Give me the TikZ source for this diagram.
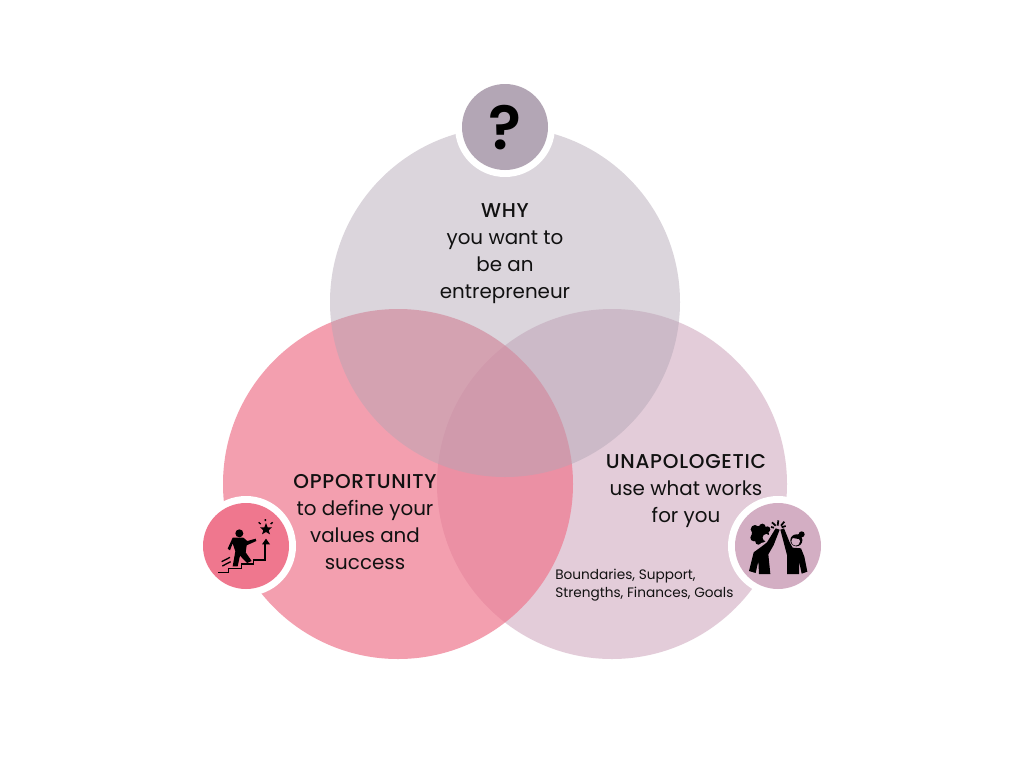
\documentclass[tikz,border=0pt]{standalone}
\usepackage{fontspec}
\setmainfont{Poppins}
\newfontfamily\headfont[LetterSpace=3.6]{Poppins Medium}
\newfontfamily\quesfont{Poppins SemiBold}
\definecolor{cwhy}{HTML}{B3A6B5}
\definecolor{copp}{HTML}{EF778E}
\definecolor{cuna}{HTML}{D3AEC3}
\definecolor{ink}{HTML}{111111}
\newcommand{\hd}[1]{{\headfont\fontsize{15}{20.25}\selectfont #1}}
\tikzset{
  venn/.style={fill=#1,draw=none},
  badge/.style={fill=#1,draw=none},
  ring/.style={fill=white,draw=none},
  lbl/.style={inner sep=0pt,align=center,text=ink,font=\fontsize{14.9}{20.25}\selectfont},
  small/.style={inner sep=0pt,align=left,text=ink,font=\fontsize{10.25}{13.5}\selectfont},
  icon/.style={fill=black,draw=none},
  iconline/.style={draw=black,line width=1pt,line cap=butt,line join=miter},
}
\begin{document}
\begin{tikzpicture}[x=0.75pt,y=-0.75pt]
\useasboundingbox (0,0) rectangle (1024,768);
\fill[white] (0,0) rectangle (1024,768);
% main circles
\fill[venn=cuna,fill opacity=.62] (612,484) circle[radius=175];
\fill[venn=copp,fill opacity=.70] (398,484) circle[radius=175];
\fill[venn=cwhy,fill opacity=.47] (505,302) circle[radius=175];
% rings and badges
\fill[ring] (505,127) circle[radius=50];
\fill[badge=cwhy] (505,127) circle[radius=43];
\fill[ring] (246,546) circle[radius=50];
\fill[badge=copp] (246,546) circle[radius=43];
\fill[ring] (778,546) circle[radius=50];
\fill[badge=cuna] (778,546) circle[radius=43];
% question mark
\node[inner sep=0pt,text=black] (qmark) at (505,128) {\quesfont\fontsize{46}{46}\selectfont ?};
% climbing icon
\begin{scope}[shift={(190,490)},x=0.25pt,y=-0.25pt]
  \fill[icon] (148,130) circle[radius=12];
  \fill[icon] (128,143) -- (160,143) -- (172,153) -- (197,146) -- (199,153) -- (170,166) -- (167,187) -- (185,213) -- (171,219) -- (150,197) -- (143,229) -- (128,229) -- (136,184) -- (128,160) -- (120,181) -- (113,176) -- cycle;
  \draw[iconline] (85,247) -- (115,247) -- (115,235) -- (155,235) -- (155,222) -- (190,222) -- (190,210) -- (225,210) -- (225,160);
  \fill[icon] (228,146) -- (240,163) -- (216,163) -- cycle;
  \fill[icon] (228,99) -- (233,112) -- (246,112) -- (236,121) -- (240,133) -- (228,126) -- (216,133) -- (220,121) -- (210,112) -- (223,112) -- cycle;
  \draw[iconline] (95,215) -- (120,202) (97,228) -- (122,215);
  \draw[iconline] (226,87) -- (226,93) (206,97) -- (212,102) (248,97) -- (242,102);
\end{scope}
% high-five icon
\begin{scope}[shift={(725,495)},x=0.25pt,y=-0.25pt]
  % left person
  \fill[icon] (106,118) circle[radius=26];
  \fill[icon] (90,103) circle[radius=13] (112,96) circle[radius=10] (127,103) circle[radius=9] (87,128) circle[radius=11] (100,140) circle[radius=9];
  \fill[cuna] (124,128) circle[radius=11];
  \fill[icon] (72,228) -- (86,172) -- (112,153) -- (126,142) -- (152,100) -- (164,104) -- (146,150) -- (130,178) -- (136,237) -- (102,237) -- (100,198) -- (92,234) -- cycle;
  % right person
  \fill[icon] (214,136) circle[radius=18];
  \fill[cuna] (212,139) circle[radius=13];
  \fill[icon] (230,118) circle[radius=9];
  \fill[icon] (198,128) -- (224,116) -- (232,134) -- cycle;
  \fill[icon] (166,104) -- (177,100) -- (194,142) -- (203,158) -- (228,160) -- (238,185) -- (247,230) -- (230,236) -- (222,198) -- (222,237) -- (186,237) -- (186,180) -- cycle;
  % sparks
  \draw[draw=black,line width=1.3pt] (158,92) -- (160,76) (168,92) -- (178,80) (152,92) -- (141,82) (170,97) -- (182,93) (147,98) -- (138,96);
\end{scope}
% texts
\node[lbl] (why) at (505,254) {\hd{WHY}\\you want to\\be an\\entrepreneur};
\node[lbl] (opp) at (365,522) {\hd{OPPORTUNITY}\\to define your\\values and\\success};
\node[lbl] (una) at (686,491) {\hd{UNAPOLOGETIC}\\use what works\\for you};
\node[small,anchor=west] (list) at (555,585) {Boundaries, Support,\\Strengths, Finances, Goals};
\end{tikzpicture}
\end{document}
